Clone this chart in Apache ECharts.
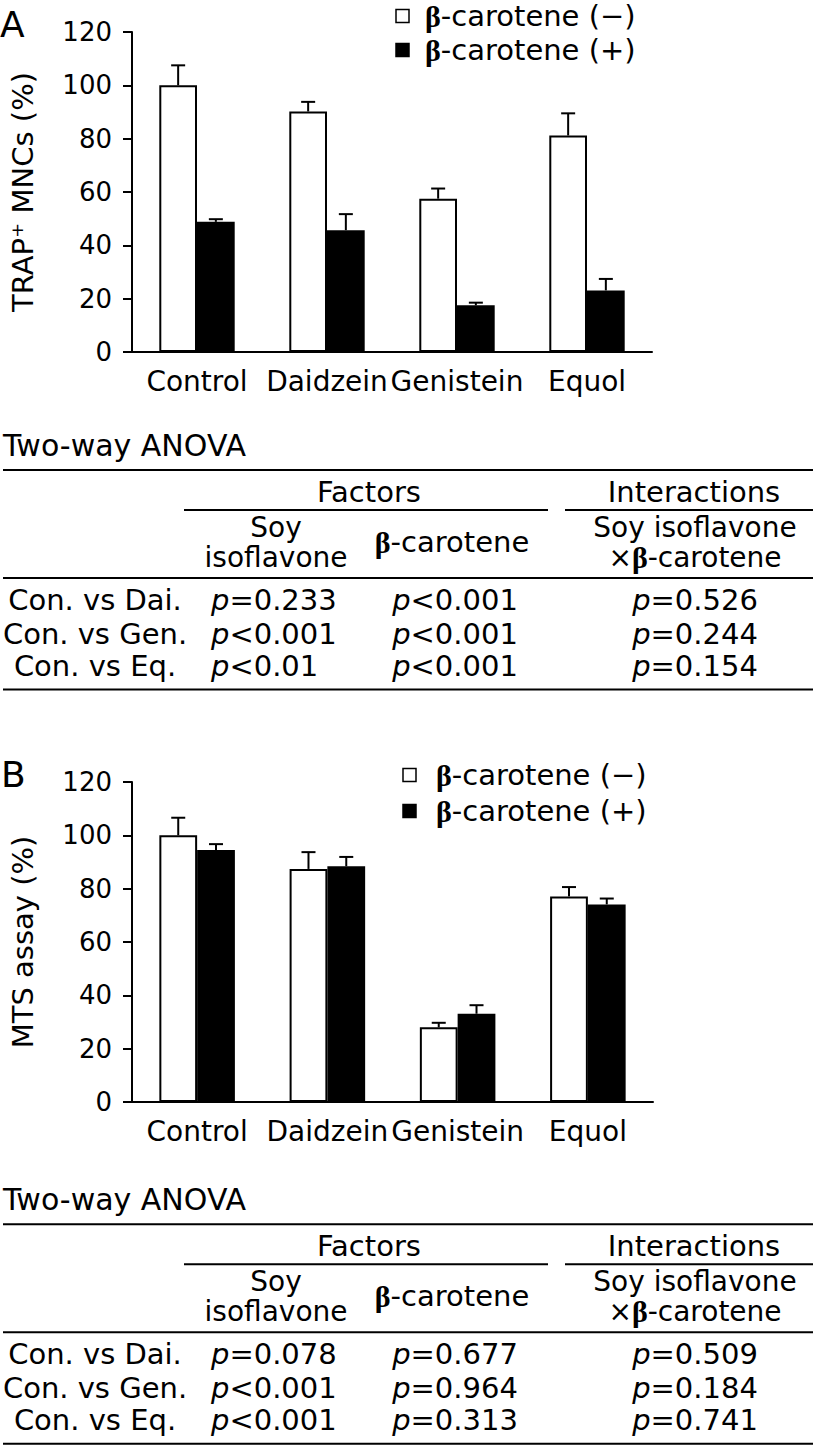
<!DOCTYPE html>
<html>
<head>
<meta charset="utf-8">
<script src="https://cdn.jsdelivr.net/npm/echarts@6/dist/echarts.min.js"></script>
<style>
html,body{margin:0;padding:0;background:#fff;}
#chart{width:815px;height:1445px;}
</style>
</head>
<body>
<div id="chart"></div>
<script>
// ---------- DATA ----------
const categories = ['Control', 'Daidzein', 'Genistein', 'Equol'];
const yTicks = [0, 20, 40, 60, 80, 100, 120];
const seriesNames = ['β-carotene (−)', 'β-carotene (+)'];

// Panel A: TRAP+ MNCs (%)
const trapMinus    = [100, 90.2, 57.5, 81.2];
const trapMinusErr = [7.5, 3.6, 3.8, 8.3];
const trapPlus     = [48.8, 45.7, 17.5, 23.1];
const trapPlusErr  = [1.0, 6.0, 1.0, 4.3];

// Panel B: MTS assay (%)
const mtsMinus    = [100, 87.4, 28.0, 77.1];
const mtsMinusErr = [6.6, 6.3, 1.7, 3.5];
const mtsPlus     = [94.5, 88.4, 33.1, 74.1];
const mtsPlusErr  = [2.2, 3.5, 3.2, 2.2];

// Two-way ANOVA tables
const anovaRows = ['Con. vs Dai.', 'Con. vs Gen.', 'Con. vs Eq.'];
const anovaA_soy   = ['=0.233', '<0.001', '<0.01'];
const anovaA_beta  = ['<0.001', '<0.001', '<0.001'];
const anovaA_inter = ['=0.526', '=0.244', '=0.154'];
const anovaB_soy   = ['=0.078', '<0.001', '<0.001'];
const anovaB_beta  = ['=0.677', '=0.964', '=0.313'];
const anovaB_inter = ['=0.509', '=0.184', '=0.741'];

// ---------- CHART ----------
const FONT = 'DejaVu Sans';
const CAT_GAP = 0.42;
const TFS = 29; // table / legend font size
const LH = 28;
const chart = echarts.init(document.getElementById('chart'), null, {renderer: 'svg'});

function richFor(lh) {
  return {
    b: {fontFamily: 'Liberation Serif', fontWeight: 'bold', fontSize: 30, lineHeight: lh, fill: '#000', color: '#000'},
    i: {fontFamily: FONT, fontStyle: 'italic', fontSize: TFS, lineHeight: lh, fill: '#000', color: '#000'},
    n: {fontFamily: FONT, fontSize: 28, lineHeight: lh, fill: '#000', color: '#000'}
  };
}

function txt(text, x, y, opts) {
  opts = opts || {};
  const align = opts.align || 'left';
  const valign = opts.valign || 'middle';
  const lh = opts.lh || LH;
  return {
    type: 'text', x: x, y: y, silent: true,
    style: {
      text: text,
      fontFamily: FONT,
      fontSize: opts.size || TFS,
      lineHeight: lh,
      fontWeight: opts.weight || 'normal',
      fill: '#000',
      align: align, textAlign: align,
      verticalAlign: valign, textVerticalAlign: valign,
      rich: richFor(lh)
    }
  };
}
function hline(x1, x2, y, w) {
  return {type: 'line', silent: true, shape: {x1: x1, y1: y, x2: x2, y2: y},
          style: {stroke: '#000', lineWidth: w || 2}};
}

function table(top, soy, beta, inter) {
  const g = [];
  g.push(txt('Two-way ANOVA', 3, top - 25, {size: 30, lh: 32}));
  g.push(hline(3, 813, top));
  g.push(txt('Factors', 369, top + 22, {align: 'center'}));
  g.push(txt('Interactions', 694, top + 22, {align: 'center'}));
  g.push(hline(184, 548, top + 40));
  g.push(hline(565, 813, top + 40));
  g.push(txt('Soy\nisoflavone', 276, top + 72, {align: 'center', size: 28, lh: 30}));
  g.push(txt('{b|β}-carotene', 452, top + 72, {align: 'center'}));
  g.push(txt('Soy isoflavone\n×{b|β}-carotene', 695, top + 72, {align: 'center', size: 28, lh: 30}));
  g.push(hline(3, 813, top + 108));
  const rowY = [top + 130, top + 163.5, top + 195.5];
  anovaRows.forEach(function (r, k) {
    g.push(txt(r, 95, rowY[k], {align: 'center'}));
    g.push(txt('{i|p}' + soy[k], 211, rowY[k], {align: 'left'}));
    g.push(txt('{i|p}' + beta[k], 455, rowY[k], {align: 'center'}));
    g.push(txt('{i|p}' + inter[k], 695, rowY[k], {align: 'center'}));
  });
  g.push(hline(3, 813, top + 219.5));
  return g;
}

function legend(x, yRows, textX) {
  const g = [];
  [0, 1].forEach(function (k) {
    g.push({type: 'rect', silent: true,
      shape: {x: x, y: yRows[k] - 6.5, width: 13, height: 13},
      style: {fill: k === 0 ? '#fff' : '#000', stroke: '#000', lineWidth: 1.5}});
    g.push(txt(seriesNames[k].replace('β', '{b|β}'), textX, yRows[k], {size: TFS}));
  });
  return g;
}

function errSeries(name, vals, errs, side, axisIdx) {
  return {
    type: 'custom', name: name + ' err', xAxisIndex: axisIdx, yAxisIndex: axisIdx, z: 5,
    silent: true,
    data: categories.map(function (c, i) { return [i, vals[i], errs[i]]; }),
    renderItem: function (params, api) {
      const i = api.value(0), v = api.value(1), e = api.value(2);
      const base = api.coord([i, v]);
      const top = api.coord([i, v + e]);
      const band = api.size([1, 0])[0];
      const bw = band * (1 - CAT_GAP) / 2;
      const x = base[0] + side * bw / 2;
      const cap = 7;
      return {
        type: 'group',
        children: [
          {type: 'line', shape: {x1: x, y1: base[1], x2: x, y2: top[1]}, style: {stroke: '#000', lineWidth: 2}},
          {type: 'line', shape: {x1: x - cap, y1: top[1], x2: x + cap, y2: top[1]}, style: {stroke: '#000', lineWidth: 2}}
        ]
      };
    }
  };
}

function barSeries(name, vals, white, axisIdx) {
  return {
    type: 'bar', name: name, xAxisIndex: axisIdx, yAxisIndex: axisIdx,
    data: vals, barGap: '0%', barCategoryGap: (CAT_GAP * 100) + '%',
    silent: true,
    itemStyle: white ? {color: '#fff', borderColor: '#000', borderWidth: 2}
                     : {color: '#000', borderColor: '#000', borderWidth: 0}
  };
}

function xAx(gi) {
  return {
    type: 'category', gridIndex: gi, data: categories,
    axisLine: {show: true, lineStyle: {color: '#000', width: 2}},
    axisTick: {show: false},
    axisLabel: {color: '#000', fontFamily: FONT, fontSize: 28, margin: 15, interval: 0},
    splitLine: {show: false}
  };
}
function yAx(gi, name) {
  return {
    type: 'value', gridIndex: gi, min: yTicks[0], max: yTicks[yTicks.length - 1], interval: 20,
    name: name, nameLocation: 'middle', nameGap: 95, nameRotate: 90,
    nameTextStyle: {color: '#000', fontFamily: FONT, fontSize: 29},
    axisLine: {show: true, lineStyle: {color: '#000', width: 2}},
    axisTick: {show: true, length: 9, lineStyle: {color: '#000', width: 2}},
    axisLabel: {color: '#000', fontFamily: FONT, fontSize: 26, margin: 20},
    splitLine: {show: false}
  };
}

let graphics = [];
graphics.push(txt('A', 0, 24, {size: 36, lh: 38}));
graphics.push(txt('B', 1, 774, {size: 36, lh: 38}));
graphics = graphics.concat(legend(396, [16, 50], 425));
graphics = graphics.concat(legend(403, [775, 811], 436));
graphics = graphics.concat(table(470, anovaA_soy, anovaA_beta, anovaA_inter));
graphics = graphics.concat(table(1224.3, anovaB_soy, anovaB_beta, anovaB_inter));

chart.setOption({
  animation: false,
  backgroundColor: '#fff',
  grid: [
    {left: 116, top: 32, width: 536, height: 320},
    {left: 117, top: 782, width: 536, height: 320}
  ],
  xAxis: [xAx(0), xAx(1)],
  yAxis: [yAx(0, 'TRAP⁺ MNCs (%)'), yAx(1, 'MTS assay (%)')],
  series: [
    barSeries(seriesNames[0], trapMinus, true, 0),
    barSeries(seriesNames[1], trapPlus, false, 0),
    errSeries('A-', trapMinus, trapMinusErr, -1, 0),
    errSeries('A+', trapPlus, trapPlusErr, 1, 0),
    barSeries(seriesNames[0], mtsMinus, true, 1),
    barSeries(seriesNames[1], mtsPlus, false, 1),
    errSeries('B-', mtsMinus, mtsMinusErr, -1, 1),
    errSeries('B+', mtsPlus, mtsPlusErr, 1, 1)
  ],
  graphic: graphics
});
</script>
</body>
</html>
